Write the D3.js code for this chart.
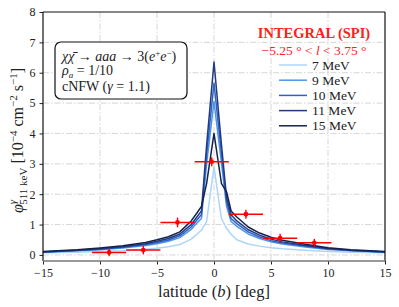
<!DOCTYPE html>
<html>
<head>
<meta charset="utf-8">
<script src="https://cdn.jsdelivr.net/npm/d3@7"></script>
<style>
  body { margin: 0; background: #fff; }
  svg { font-family: "Liberation Serif", "DejaVu Serif", serif; }
</style>
</head>
<body>
<svg id="chart" width="399" height="307"></svg>
<script>
// latitude grid of the model curves (deg)
const latitude = [-15, -12, -10, -8, -6, -5, -4, -3, -2, -1.5, -1.1, -0.65, 0, 0.65, 1.1, 1.5, 2, 3, 4, 5, 6, 8, 10, 12, 15];

// model flux, 1e-4 cm^-2 s^-1
const flux7 = [0.07, 0.09, 0.11, 0.14, 0.19, 0.22, 0.27, 0.34, 0.52, 0.68, 0.82, 1.1, 2.9, 1.2, 0.88, 0.68, 0.5, 0.36, 0.29, 0.24, 0.2, 0.15, 0.11, 0.09, 0.07];
const flux9 = [0.09, 0.135, 0.17, 0.23, 0.31, 0.37, 0.45, 0.57, 0.84, 1.05, 1.2, 3.0, 5.05, 3.05, 1.6, 1.1, 0.94, 0.69, 0.54, 0.43, 0.36, 0.26, 0.18, 0.135, 0.09];
const flux10 = [0.095, 0.145, 0.19, 0.25, 0.34, 0.41, 0.49, 0.63, 0.92, 1.15, 1.33, 3.3, 5.65, 3.35, 1.75, 1.2, 1.03, 0.76, 0.59, 0.47, 0.39, 0.29, 0.2, 0.145, 0.095];
const flux11 = [0.1, 0.155, 0.2, 0.27, 0.37, 0.45, 0.54, 0.69, 1.0, 1.25, 1.45, 3.6, 6.35, 3.65, 1.9, 1.32, 1.12, 0.83, 0.65, 0.52, 0.43, 0.31, 0.21, 0.155, 0.1];
const flux15 = [0.11, 0.17, 0.23, 0.3, 0.41, 0.5, 0.6, 0.76, 1.12, 1.38, 1.6, 2.35, 4.0, 2.36, 2.08, 1.45, 1.25, 0.92, 0.72, 0.58, 0.48, 0.35, 0.24, 0.17, 0.11];

const seriesNames = ["7 MeV", "9 MeV", "10 MeV", "11 MeV", "15 MeV"];
const seriesColors = ["#acd6f7", "#4f95e6", "#2d62c6", "#223a80", "#14224c"];
const seriesFlux = [flux7, flux9, flux10, flux11, flux15];

// INTEGRAL/SPI points
const spiB = [-9.2, -6.2, -3.2, -0.2, 2.8, 5.8, 8.8];
const spiBErr = [1.5, 1.5, 1.5, 1.5, 1.5, 1.5, 1.5];
const spiFlux = [0.08, 0.16, 1.07, 3.07, 1.34, 0.55, 0.4];
const spiFluxErr = [0.12, 0.14, 0.16, 0.15, 0.15, 0.15, 0.13];

const xTicks = [-15, -10, -5, 0, 5, 10, 15];
const yTicks = [0, 1, 2, 3, 4, 5, 6, 7, 8];

const mLeft = 43, mRight = 385, mTop = 12, mBottom = 261;
const svg = d3.select("#chart");

const x = d3.scaleLinear().domain([-15, 15]).range([mLeft, mRight]);
const y = d3.scaleLinear().domain([-0.2, 8]).range([mBottom, mTop]);
const fmt = (d) => (d < 0 ? "\u2212" + Math.abs(d) : "" + d);

// grid
const grid = svg.append("g").attr("stroke", "#cccccc").attr("stroke-width", 0.8)
  .attr("stroke-dasharray", "6,2,1.5,2");
grid.selectAll(".gx").data(xTicks.slice(1, -1)).enter().append("line")
  .attr("x1", (d) => x(d)).attr("x2", (d) => x(d)).attr("y1", mTop).attr("y2", mBottom);
grid.selectAll(".gy").data(yTicks.slice(0, -1)).enter().append("line")
  .attr("x1", mLeft).attr("x2", mRight).attr("y1", (d) => y(d)).attr("y2", (d) => y(d));

// model curves
const line = d3.line().x((d) => x(d[0])).y((d) => y(d[1]));
seriesFlux.forEach((vals, i) => {
  svg.append("path")
    .datum(latitude.map((b, j) => [b, vals[j]]))
    .attr("fill", "none")
    .attr("stroke", seriesColors[i])
    .attr("stroke-width", 1.5)
    .attr("stroke-linejoin", "round")
    .attr("d", line);
});

// data points
const pts = svg.append("g").attr("stroke", "#ff0000").attr("stroke-width", 1.4);
spiB.forEach((b, i) => {
  pts.append("line").attr("x1", x(b - spiBErr[i])).attr("x2", x(b + spiBErr[i]))
    .attr("y1", y(spiFlux[i])).attr("y2", y(spiFlux[i]));
  pts.append("line").attr("x1", x(b)).attr("x2", x(b))
    .attr("y1", y(spiFlux[i] - spiFluxErr[i])).attr("y2", y(spiFlux[i] + spiFluxErr[i]));
  pts.append("circle").attr("cx", x(b)).attr("cy", y(spiFlux[i])).attr("r", 2.4)
    .attr("fill", "#ff0000").attr("stroke", "none");
});

// axes
const xAxis = svg.append("g").attr("transform", `translate(0,${mBottom})`)
  .call(d3.axisBottom(x).tickValues(xTicks).tickFormat(fmt).tickSize(3.5).tickPadding(4));
const yAxis = svg.append("g").attr("transform", `translate(${mLeft},0)`)
  .call(d3.axisLeft(y).tickValues(yTicks).tickFormat(fmt).tickSize(3.5).tickPadding(4));
[xAxis, yAxis].forEach((g) => {
  g.select(".domain").remove();
  g.selectAll("text").attr("font-family", "Liberation Serif, serif").attr("font-size", 12).attr("fill", "#222");
  g.selectAll("line").attr("stroke", "#222");
});

// frame
svg.append("line").attr("x1", mLeft).attr("x2", mLeft).attr("y1", mTop).attr("y2", mBottom).attr("stroke", "#111").attr("stroke-width", 1.2);
svg.append("line").attr("x1", mRight).attr("x2", mRight).attr("y1", mTop).attr("y2", mBottom).attr("stroke", "#111").attr("stroke-width", 1.2);
svg.append("line").attr("x1", mLeft).attr("x2", mRight).attr("y1", mTop).attr("y2", mTop).attr("stroke", "#111").attr("stroke-width", 1.2);
svg.append("line").attr("x1", mLeft).attr("x2", mRight).attr("y1", mBottom).attr("y2", mBottom).attr("stroke", "#777").attr("stroke-width", 1.6);

// x label
svg.append("text").attr("x", x(0)).attr("y", 297).attr("text-anchor", "middle")
  .attr("font-size", 16.5).attr("fill", "#222")
  .html('latitude (<tspan font-style="italic">b</tspan>) [deg]');

// y label
svg.append("text").attr("transform", `translate(23,${(mTop + mBottom) / 2 + 4}) rotate(-90)`)
  .attr("text-anchor", "middle").attr("font-size", 16).attr("fill", "#222")
  .html('<tspan font-style="italic">\u03c6</tspan><tspan font-style="italic" font-size="11" dy="-7">\u03b3</tspan>' +
    '<tspan font-size="11" dx="-5" dy="11">511 keV</tspan>' +
    '<tspan dy="-4"> [10</tspan><tspan font-size="11" dy="-6">\u22124</tspan>' +
    '<tspan dy="6"> cm</tspan><tspan font-size="11" dy="-6">\u22122</tspan>' +
    '<tspan dy="6"> s</tspan><tspan font-size="11" dy="-6">\u22121</tspan><tspan dy="6">]</tspan>');

// text box
svg.append("rect").attr("x", 55).attr("y", 42).attr("width", 132).attr("height", 57)
  .attr("rx", 6).attr("fill", "#fff").attr("stroke", "#111").attr("stroke-width", 1.2);
const box = svg.append("g").attr("font-size", 14).attr("fill", "#222");
box.append("text").attr("x", 62).attr("y", 61)
  .html('<tspan font-style="italic">\u03c7\u03c7\u0304</tspan> \u2192 <tspan font-style="italic">aaa</tspan> \u2192 3(<tspan font-style="italic">e</tspan><tspan font-size="9" dy="-5">+</tspan><tspan font-style="italic" dy="5">e</tspan><tspan font-size="9" dy="-5">\u2212</tspan><tspan dy="5">)</tspan>');
box.append("text").attr("x", 62).attr("y", 75)
  .html('<tspan font-style="italic">\u03c1</tspan><tspan font-style="italic" font-size="9" dy="2.5">a</tspan><tspan dy="-2.5"> = 1/10</tspan>');
box.append("text").attr("x", 62).attr("y", 91)
  .html('cNFW (<tspan font-style="italic">\u03b3</tspan> = 1.1)');

// legend
svg.append("text").attr("x", 314).attr("y", 38).attr("text-anchor", "middle")
  .attr("font-size", 14.5).attr("font-weight", "bold").attr("fill", "#ff2020")
  .text("INTEGRAL (SPI)");
svg.append("text").attr("x", 314).attr("y", 55).attr("text-anchor", "middle")
  .attr("font-size", 13.5).attr("fill", "#ff2020")
  .html('\u22125.25 \u00b0 &lt; <tspan font-style="italic">l</tspan> &lt; 3.75 \u00b0');
const legend = svg.append("g");
seriesNames.forEach((name, i) => {
  const ly = 65 + i * 15.2;
  legend.append("line").attr("x1", 279).attr("x2", 307).attr("y1", ly).attr("y2", ly)
    .attr("stroke", seriesColors[i]).attr("stroke-width", 1.5);
  legend.append("text").attr("x", 312).attr("y", ly + 4.5).attr("font-size", 13.5).attr("fill", "#222").text(name);
});
</script>
</body>
</html>
